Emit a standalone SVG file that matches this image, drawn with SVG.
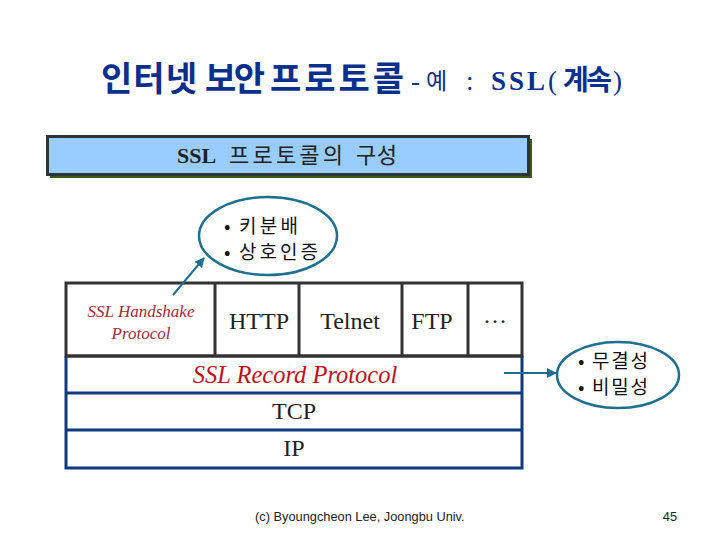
<svg xmlns="http://www.w3.org/2000/svg" width="720" height="540" viewBox="0 0 720 540">
<style>
.ko{font-family:"Noto Sans CJK KR","Noto Sans",sans-serif}
.serif{font-family:"Liberation Serif","Noto Sans CJK KR",serif}
.tk{font-family:"Noto Sans CJK KR",sans-serif;font-weight:bold;font-size:34px;fill:#0b2f8c}
.ts{font-family:"Liberation Serif",serif;font-size:27px;fill:#0b2f8c}
.cell{font-family:"Liberation Serif",serif;font-size:24px;fill:#222;text-anchor:middle}
.bul{font-family:"Noto Sans CJK KR",sans-serif;font-size:19px;fill:#111}
.dark{stroke:#333;stroke-width:3;fill:none}
.navy{stroke:#103a80;stroke-width:3;fill:none}
.ell{fill:none;stroke:#1f6f8f;stroke-width:2.5}
.conn{stroke:#1f6f8f;stroke-width:2;fill:none}
</style>
<defs>
<marker id="ah" viewBox="0 0 10 10" refX="9" refY="5" markerWidth="5" markerHeight="5" orient="auto">
<path d="M0,0 L10,5 L0,10 z" fill="#1f6f8f"/>
</marker>
</defs>
<rect width="720" height="540" fill="#fff"/>
<g id="title">
<text x="101" y="91" class="tk" textLength="96" lengthAdjust="spacing">인터넷</text>
<text x="205" y="91" class="tk" textLength="60" lengthAdjust="spacing">보안</text>
<text x="270" y="91" class="tk" textLength="134" lengthAdjust="spacing">프로토콜</text>
<text x="411" y="90" class="ts">-</text>
<text x="426" y="89" class="ko" font-size="23" fill="#0b2f8c">예</text>
<text x="466" y="90" class="ts">:</text>
<text x="491" y="90" class="ts" font-weight="bold" letter-spacing="3">SSL</text>
<text x="548" y="90" class="ts">(</text>
<text x="563" y="90" class="ko" font-size="28" font-weight="bold" fill="#0b2f8c" textLength="49" lengthAdjust="spacing">계속</text>
<text x="613" y="90" class="ts">)</text>
</g>
<g id="header-box">
<rect x="50" y="139" width="482" height="39" fill="#3a5a1c"/>
<rect x="47.5" y="136.5" width="481" height="38" fill="#99ccff" stroke="#2d353b" stroke-width="3"/>
<text x="177" y="163" class="serif" font-size="22" font-weight="bold" fill="#222">SSL</text>
<text x="229" y="163" class="ko" font-size="22" fill="#222" textLength="114" lengthAdjust="spacing">프로토콜의</text>
<text x="356" y="163" class="ko" font-size="22" fill="#222" textLength="41" lengthAdjust="spacing">구성</text>
</g>
<g id="ellipse-handshake">
<ellipse cx="268" cy="236" rx="69" ry="39" class="ell"/>
<text x="224" y="233" class="bul">•</text>
<text x="239" y="233" class="bul" textLength="59" lengthAdjust="spacing">키분배</text>
<text x="224" y="259" class="bul">•</text>
<text x="239" y="259" class="bul" textLength="79" lengthAdjust="spacing">상호인증</text>
</g>
<g id="ellipse-record">
<ellipse cx="618" cy="375" rx="61" ry="33" class="ell"/>
<text x="578" y="368" class="bul" font-size="18">•</text>
<text x="592" y="368" class="bul" font-size="18" textLength="56" lengthAdjust="spacing">무결성</text>
<text x="578" y="394" class="bul" font-size="18">•</text>
<text x="592" y="394" class="bul" font-size="18" textLength="56" lengthAdjust="spacing">비밀성</text>
</g>
<g id="stack">
<rect x="66" y="283" width="456" height="73" class="dark"/>
<line x1="215" y1="283" x2="215" y2="356" class="dark"/>
<line x1="299" y1="283" x2="299" y2="356" class="dark"/>
<line x1="402" y1="283" x2="402" y2="356" class="dark"/>
<line x1="468" y1="283" x2="468" y2="356" class="dark"/>
<path d="M66,356 V468 H522 V356" class="navy"/>
<line x1="66" y1="393" x2="522" y2="393" class="navy"/>
<line x1="66" y1="430" x2="522" y2="430" class="navy"/>
<line x1="66" y1="356" x2="522" y2="356" class="dark"/>
</g>
<g id="handshake">
<text x="141" y="317" font-family="Liberation Serif,serif" font-style="italic" font-size="17" fill="#a52a3a" text-anchor="middle">SSL Handshake</text>
<text x="141" y="339" font-family="Liberation Serif,serif" font-style="italic" font-size="17" fill="#a52a3a" text-anchor="middle">Protocol</text>
</g>
<g id="http"><text x="259" y="329" class="cell">HTTP</text></g>
<g id="telnet"><text x="350" y="329" class="cell">Telnet</text></g>
<g id="ftp"><text x="432" y="329" class="cell">FTP</text></g>
<g id="etc"><text x="495" y="323" class="cell">…</text></g>
<g id="record"><text x="295" y="383" font-family="Liberation Serif,serif" font-style="italic" font-size="24.5" fill="#c01020" text-anchor="middle">SSL Record Protocol</text></g>
<g id="tcp"><text x="294" y="419" class="cell">TCP</text></g>
<g id="ip"><text x="294" y="456" class="cell">IP</text></g>
<g id="connectors">
<line x1="173" y1="295" x2="204" y2="258" class="conn" marker-end="url(#ah)"/>
<line x1="504" y1="373" x2="556" y2="373" class="conn" marker-end="url(#ah)"/>
</g>
<g id="footer">
<text x="255" y="521" font-family="Liberation Sans,sans-serif" font-size="12.8" fill="#222">(c) Byoungcheon Lee, Joongbu Univ.</text>
<text x="677" y="521" font-family="Liberation Sans,sans-serif" font-size="12.8" fill="#222" text-anchor="end">45</text>
</g>
</svg>
